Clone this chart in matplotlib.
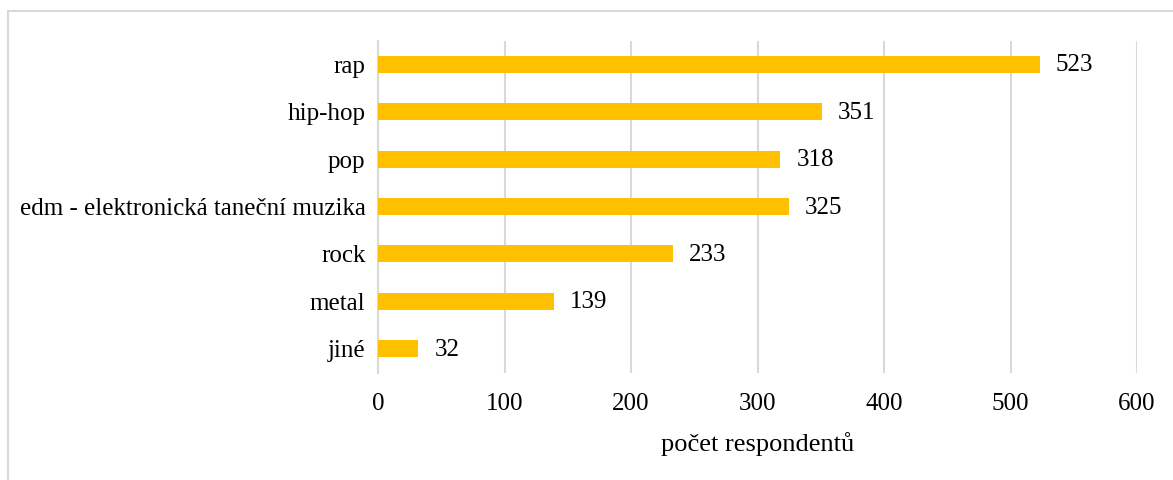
import matplotlib
matplotlib.use("Agg")
import matplotlib.pyplot as plt
from matplotlib.patches import Rectangle

categories = ["rap", "hip-hop", "pop", "edm - elektronická taneční muzika", "rock", "metal", "jiné"]
values = [523, 351, 318, 325, 233, 139, 32]
x_ticks = [0, 100, 200, 300, 400, 500, 600]
x_label = "počet respondentů"

plt.rcParams["font.family"] = ["Liberation Serif", "DejaVu Serif"]

W, H = 1173, 480
fig = plt.figure(figsize=(W / 100, H / 100), dpi=100)
ax = fig.add_axes([378 / W, 1 - 372.5 / H, (1137 - 378) / W, (372.5 - 40.5) / H])

y = list(range(len(categories)))
ax.barh(y, values, height=0.36, color="#FFC000", zorder=3)
ax.set_ylim(len(categories) - 0.5, -0.5)
ax.set_xlim(0, 600)
ax.set_yticks(y)
ax.set_yticklabels(categories, fontsize=18)
ax.set_xticks(x_ticks)
ax.set_xticklabels([str(t) for t in x_ticks], fontsize=18)
ax.tick_params(length=0)
ax.tick_params(axis="x", pad=15)
ax.tick_params(axis="y", pad=9)
ax.xaxis.grid(True, color="#D9D9D9", linewidth=1.5, zorder=0)
for s in ["top", "right", "bottom"]:
    ax.spines[s].set_visible(False)
ax.spines["left"].set_color("#D9D9D9")
ax.spines["left"].set_linewidth(1.5)

for yi, v in zip(y, values):
    ax.annotate(str(v), (v, yi), xytext=(16, -1), textcoords="offset pixels",
                va="center", ha="left", fontsize=18)

ax.set_xlabel(x_label, fontsize=19, labelpad=12)

fig.patches.append(Rectangle((8 / W, -10 / H), (W + 10) / W, (H - 1) / H,
                             transform=fig.transFigure, fill=False,
                             edgecolor="#D9D9D9", linewidth=1.5))
fig.savefig("out.png", dpi=100, facecolor="white")
